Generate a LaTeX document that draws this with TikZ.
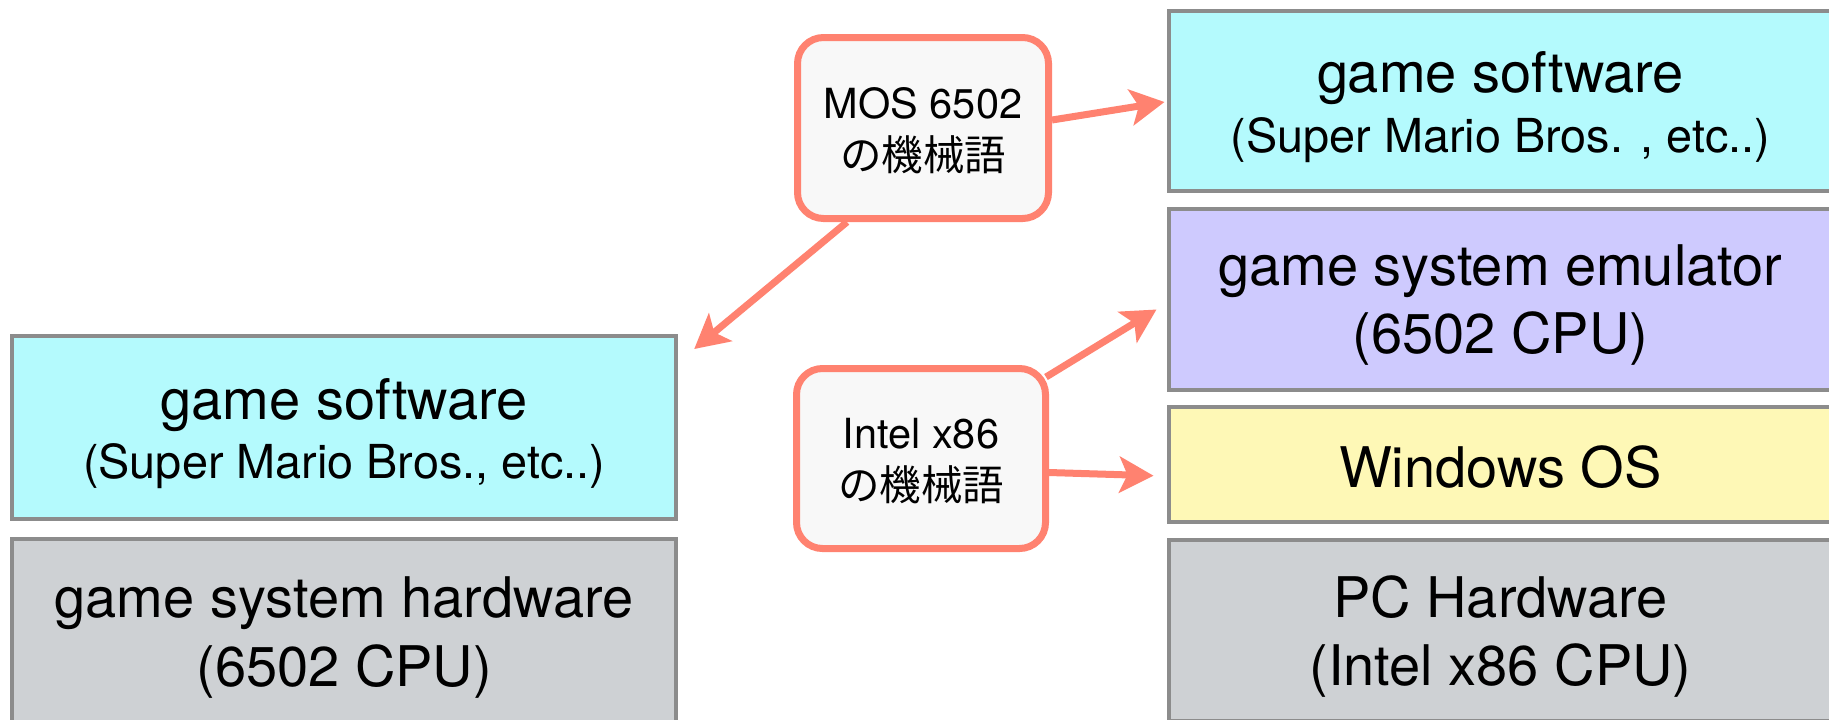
\documentclass[tikz,border=0pt]{standalone}
\usepackage{fontspec}
\setmainfont{TeX Gyre Heros}
\newfontfamily\cjk{Noto Sans CJK JP}
\usetikzlibrary{arrows.meta,calc}
\definecolor{swcyan}{RGB}{180,250,253}
\definecolor{emupurple}{RGB}{206,202,254}
\definecolor{osyellow}{RGB}{254,248,182}
\definecolor{hwgray}{RGB}{206,209,212}
\definecolor{boxline}{RGB}{140,140,140}
\definecolor{salmon}{RGB}{255,130,112}
\definecolor{calloutfill}{RGB}{248,248,248}
\begin{document}
\begin{tikzpicture}[x=0.5pt,y=-0.5pt,
  layer/.style={draw=boxline, line width=2pt, minimum width=332pt, inner sep=0pt, rectangle},
  maintext/.style={anchor=base, inner sep=0pt, font=\fontsize{28}{33}\selectfont},
  subtext/.style={anchor=base, inner sep=0pt, font=\fontsize{23.4}{28}\selectfont},
  callout/.style={draw=salmon, fill=calloutfill, line width=3.5pt, rounded corners=13pt, minimum width=125pt, minimum height=90.5pt, inner sep=0pt},
  calltext/.style={anchor=base, inner sep=0pt, font=\fontsize{20.75}{25}\selectfont},
  link/.style={draw=salmon, line width=3.5pt, -{Stealth[length=17pt, width=18pt, inset=4pt]}}
]
\useasboundingbox (0,0) rectangle (1829,719);
\clip (0,0) rectangle (1829,719);
\fill[white] (0,0) rectangle (1829,719);

% left stack
\node[layer, fill=swcyan, minimum height=91.5pt] (lsoft) at (344.2,427.5) {};
\node[layer, fill=hwgray, minimum height=91.5pt] (lhw) at (344.2,630) {};
% right stack
\node[layer, fill=swcyan, minimum height=89.75pt] (rsoft) at (1500.5,101) {};
\node[layer, fill=emupurple, minimum height=90.5pt] (emu) at (1500.5,299.5) {};
\node[layer, fill=osyellow, minimum height=57.25pt] (win) at (1500.5,464.7) {};
\node[layer, fill=hwgray, minimum height=90.5pt] (pchw) at (1500.5,630) {};

% texts
\node[maintext] (t1) at (lsoft.center |- 0,419) {game software};
\node[subtext] (t2) at (lsoft.center |- 0,478) {(Super Mario Bros., etc..)};
\node[maintext] (t3) at (lhw.center |- 0,617) {game system hardware};
\node[maintext] (t4) at (lhw.center |- 0,686) {(6502 CPU)};
\node[maintext] (t5) at (rsoft.center |- 0,92) {game software};
\node[subtext] (t6) at (rsoft.center |- 0,152) {(Super Mario Bros. , etc..)};
\node[maintext] (t7) at (emu.center |- 0,285.5) {game system emulator};
\node[maintext] (t8) at (emu.center |- 0,353) {(6502 CPU)};
\node[maintext] (t9) at (win.center |- 0,487) {Windows OS};
\node[maintext] (t10) at (pchw.center |- 0,617.5) {PC Hardware};
\node[maintext] (t11) at (pchw.center |- 0,685.5) {(Intel x86 CPU)};

% callouts
\coordinate (mosc) at (923,128);
\coordinate (intc) at (921,458.5);
\node[callout, minimum width=125.5pt] (mos) at (mosc) {};
\node[callout, minimum width=124.5pt, minimum height=90pt] (intel) at (intc) {};

% connectors
\draw[link] ($(mos.east)+(0,-8)$) -- ($(rsoft.west)+(-2,1)$);
\draw[link] ($(mos.south)+(-76,0)$) -- ($(lsoft.north east)+(16,15)$);
\draw[link] ($(intel.north east)+(-3,12)$) -- ($(emu.west)+(-10,10)$);
\draw[link] ($(intel.east)+(0,14)$) -- ($(win.west)+(-13,11)$);

\node[calltext] (c1) at (mos.center |- 0,118) {MOS 6502};
\node[calltext] (c2) at (mos.center |- 0,170) {\cjk の機械語};
\node[calltext] (c3) at (intel.center |- 0,448) {Intel x86};
\node[calltext] (c4) at (intel.center |- 0,500) {\cjk の機械語};
\end{tikzpicture}
\end{document}
